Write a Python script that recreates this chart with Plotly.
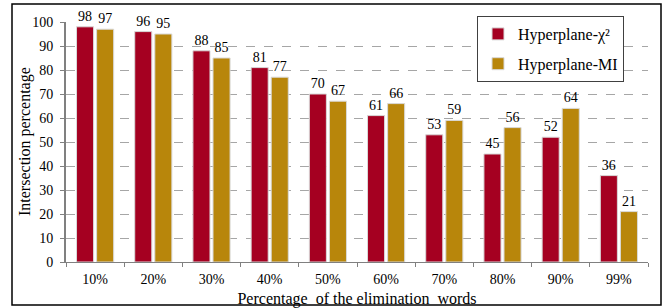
import plotly.graph_objects as go

categories = ["10%", "20%", "30%", "40%", "50%", "60%", "70%", "80%", "90%", "99%"]
chi2_values = [98, 96, 88, 81, 70, 61, 53, 45, 52, 36]
mi_values = [97, 95, 85, 77, 67, 66, 59, 56, 64, 21]
y_ticks = [0, 10, 20, 30, 40, 50, 60, 70, 80, 90, 100]

FONT = "Liberation Serif, Times New Roman, serif"
RED = "#A50021"
GOLD = "#B8860B"

fig = go.Figure()
fig.add_trace(go.Bar(
    x=categories, y=chi2_values, name="Hyperplane-χ²",
    marker=dict(color=RED, line=dict(color="#d9d9d9", width=1)),
    text=[str(v) for v in chi2_values], textposition="outside",
    textfont=dict(family=FONT, size=14, color="black"), cliponaxis=False,
    legendgroup="a",
))
fig.add_trace(go.Bar(
    x=categories, y=mi_values, name="Hyperplane-MI",
    marker=dict(color=GOLD, line=dict(color="#d9d9d9", width=1)),
    text=[str(v) for v in mi_values], textposition="outside",
    textfont=dict(family=FONT, size=14, color="black"), cliponaxis=False,
    legendgroup="b",
))

W, H = 665, 308
ml, mr, mt, mb = 66, 17, 22, 46
pw, ph = W - ml - mr, H - mt - mb

def px_x(x):
    return (x - ml) / pw

def px_y(y):
    return (H - mb - y) / ph

fig.update_layout(
    width=W, height=H,
    margin=dict(l=ml, r=mr, t=mt, b=mb),
    paper_bgcolor="white", plot_bgcolor="white",
    font=dict(family=FONT, color="black", size=14),
    barmode="group", bargap=0.31, bargroupgap=0.15,
    showlegend=True,
    legend=dict(
        x=px_x(477), y=px_y(16), xanchor="left", yanchor="top",
        bgcolor="white", bordercolor="#404040", borderwidth=1,
        font=dict(family=FONT, size=16, color="black"),
        tracegroupgap=6, itemwidth=30,
    ),
    xaxis=dict(
        automargin=False,
        showline=True, linecolor="#808080", linewidth=1,
        ticks="outside", tickcolor="#808080", ticklen=4,
        tickson="boundaries", ticklabelstandoff=4,
        tickfont=dict(family=FONT, size=14),
        title=dict(text="Percentage  of the elimination  words",
                   font=dict(family=FONT, size=16), standoff=8),
    ),
    yaxis=dict(
        automargin=False,
        range=[0, 100], tickvals=y_ticks,
        showline=True, linecolor="#808080", linewidth=2,
        ticks="outside", tickcolor="#808080", ticklen=4,
        ticklabelstandoff=4,
        showgrid=True, gridcolor="#a6a6a6", griddash="dash", gridwidth=1,
        zeroline=False,
        tickfont=dict(family=FONT, size=14),
    ),
    annotations=[dict(
        text="Intersection percentage", textangle=-90,
        xref="paper", yref="paper", x=px_x(25), y=0.5,
        xanchor="center", yanchor="middle", showarrow=False,
        font=dict(family=FONT, size=16, color="black"),
    )],
    shapes=[dict(
        type="rect", xref="paper", yref="paper",
        x0=px_x(12), x1=px_x(661), y0=px_y(305), y1=px_y(4),
        line=dict(color="black", width=1.5), fillcolor="rgba(0,0,0,0)",
        layer="above",
    )],
)

fig.write_html(
    "out.html",
    config={"displayModeBar": False},
    post_script="document.body.style.margin='0';document.body.style.overflow='hidden';",
)
